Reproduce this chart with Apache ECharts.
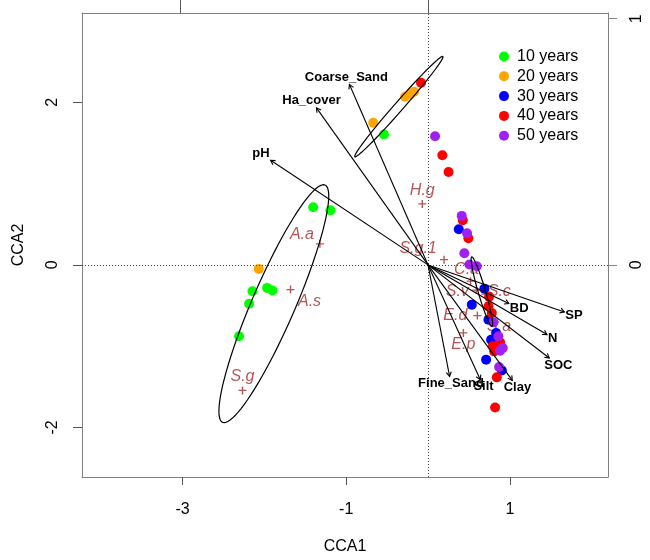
<!DOCTYPE html>
<html><head><meta charset="utf-8">
<script src="https://cdn.jsdelivr.net/npm/echarts@6/dist/echarts.min.js"></script>
<style>html,body{margin:0;padding:0;background:#fff}#c{width:650px;height:560px}</style>
</head><body><div id="c"></div>
<script>
// ---------- data ----------
const xTicks = [-3, -1, 1];
const yTicks = [-2, 0, 2];
const topTicks = [-1, 0];
const rightTicks = [0, 1];
const groupNames = ['10 years', '20 years', '30 years', '40 years', '50 years'];

const years10 = [[-0.539,1.605],[-1.404,0.709],[-1.193,0.672],[-2.146,-0.325],[-2.187,-0.477],[-1.967,-0.283],[-1.901,-0.316],[-2.310,-0.879]];
const years20 = [[-2.069,-0.049],[-0.670,1.749],[-0.28,2.07],[-0.22,2.10],[-0.17,2.13]];
const years30 = [[0.376,0.438],[0.689,-0.292],[0.535,-0.489],[0.738,-0.674],[0.832,-0.837],[0.771,-0.920],[0.710,-1.166],[0.902,-1.298]];
const years40 = [[-0.086,2.241],[0.175,1.350],[0.251,1.143],[0.425,0.549],[0.493,0.328],[0.747,-0.390],[0.738,-0.510],[0.780,-0.591],[0.881,-0.953],[0.792,-1.002],[0.808,-1.064],[0.841,-1.384],[0.820,-1.754]];
const years50 = [[0.086,1.584],[0.412,0.603],[0.477,0.389],[0.444,0.143],[0.506,0.004],[0.596,-0.017],[0.799,-0.707],[0.860,-0.879],[0.914,-1.022],[0.881,-1.055],[0.869,-1.256]];

const speciesNames = ['H.g','S.g.1','A.a','A.s','S.g','E.d','E.p','C.a','S.v','S.c','S.a'];
const speciesX = [-0.070, 0.196, -1.322, -1.681, -2.268, 0.603, 0.432, 0.52, 0.59, 0.70, 0.82];
const speciesY = [0.751, 0.065, 0.259, -0.304, -1.544, -0.624, -0.837, -0.20, -0.31, -0.36, -0.70];

const envNames = ['Coarse_Sand','Ha_cover','pH','Fine_Sand','Silt','Clay','SOC','N','SP','BD'];
const envX = [-0.317,-0.450,-0.635, 0.087, 0.211, 0.340, 0.489, 0.480, 0.550, 0.326];
const envY = [ 0.733, 0.638, 0.425,-0.453,-0.466,-0.469,-0.378,-0.283,-0.191,-0.157];

// ellipses: centre x, centre y, semi-major, semi-minor, angle(deg)
const ellipseCX = [-1.885, -0.356, 0.658];
const ellipseCY = [-0.477, 1.949, -0.329];
const ellipseA = [1.589, 0.819, 0.445];
const ellipseB = [0.264, 0.055, 0.045];
const ellipseAngle = [66.8, 48.9, -73.8];

// ---------- layout / style ----------
const X_MIN = -4.23, X_MAX = 2.20, Y_MIN = -2.61, Y_MAX = 3.10, ARROW_MUL = 3.03;
const FONT = 'Liberation Sans, Arial, sans-serif';
const ENV_FONT = 'bold 13px Liberation Sans, Arial, sans-serif';
const groupColors = ['#00FF00', '#FFA500', '#0000FF', '#FF0000', '#A020F0'];
const SP_COLOR = '#A52A2A';
const speciesLabelOffset = [[0,-13],[-26,-11],[-18,-9],[19,12],[0,-14],[-22,0],[0,12],[-4,-12],[-19,1],[14,-3],[4,5]];
const AXIS_COLOR = '#808080';

const groups = [years10, years20, years30, years40, years50];
const measureCtx = document.createElement('canvas').getContext('2d');
measureCtx.font = ENV_FONT;

const chart = echarts.init(document.getElementById('c'), null, {renderer: 'canvas'});

const scatterSeries = groups.map((g, i) => ({
  type: 'scatter', name: groupNames[i], data: g,
  xAxisIndex: 0, yAxisIndex: 0,
  symbol: 'circle', symbolSize: 10,
  itemStyle: {color: groupColors[i], opacity: 1},
  z: 4
}));

const ellipseSeries = {
  type: 'custom', xAxisIndex: 0, yAxisIndex: 0, z: 5, silent: true,
  data: ellipseCX.map((c, i) => [c, ellipseCY[i], ellipseA[i], ellipseB[i], ellipseAngle[i]]),
  encode: {x: 0, y: 1},
  renderItem: function (params, api) {
    const cx = api.value(0), cy = api.value(1), a = api.value(2), b = api.value(3);
    const ang = api.value(4) * Math.PI / 180;
    const pts = [];
    const N = 90;
    for (let k = 0; k <= N; k++) {
      const t = k / N * 2 * Math.PI;
      const x = cx + a * Math.cos(t) * Math.cos(ang) - b * Math.sin(t) * Math.sin(ang);
      const y = cy + a * Math.cos(t) * Math.sin(ang) + b * Math.sin(t) * Math.cos(ang);
      pts.push(api.coord([x, y]));
    }
    return {type: 'polyline', shape: {points: pts}, style: {fill: null, stroke: '#000', lineWidth: 1.2}};
  }
};

const arrowSeries = {
  type: 'custom', xAxisIndex: 1, yAxisIndex: 1, z: 6, silent: true,
  data: envX.map((x, i) => [x, envY[i]]),
  encode: {x: 0, y: 1},
  renderItem: function (params, api) {
    const x = api.value(0), y = api.value(1);
    const name = envNames[params.dataIndex];
    const o = api.coord([0, 0]);
    const p = api.coord([x, y]);
    const th = Math.atan2(p[1] - o[1], p[0] - o[0]);
    const ux = Math.cos(th), uy = Math.sin(th);
    const hw = measureCtx.measureText(name).width / 2 + 1, hh = 7;
    const d = Math.min(Math.abs(ux) > 1e-6 ? hw / Math.abs(ux) : 1e9, Math.abs(uy) > 1e-6 ? hh / Math.abs(uy) : 1e9);
    const l = [p[0] + ux * d, p[1] + uy * d];
    const h = 5, sp = Math.PI / 6;
    const h1 = [p[0] - h * Math.cos(th - sp), p[1] - h * Math.sin(th - sp)];
    const h2 = [p[0] - h * Math.cos(th + sp), p[1] - h * Math.sin(th + sp)];
    return {type: 'group', children: [
      {type: 'line', shape: {x1: o[0], y1: o[1], x2: p[0], y2: p[1]}, style: {stroke: '#000', lineWidth: 1.1}},
      {type: 'polyline', shape: {points: [h1, p, h2]}, style: {stroke: '#000', lineWidth: 1.1, fill: null}},
      {type: 'text', x: l[0], y: l[1], style: {text: name, align: 'center', verticalAlign: 'middle', fill: '#000', font: ENV_FONT}}
    ]};
  }
};

const speciesSeries = {
  type: 'scatter', name: 'species', xAxisIndex: 0, yAxisIndex: 0, z: 3, silent: true,
  symbol: 'path://M5,0L5,10M0,5L10,5', symbolSize: 8,
  itemStyle: {color: SP_COLOR, borderColor: SP_COLOR, borderWidth: 1.4},
  data: speciesNames.map((n, i) => ({
    name: n, value: [speciesX[i], speciesY[i]],
    label: {offset: speciesLabelOffset[i]}
  })),
  label: {show: true, position: 'inside', formatter: '{b}', color: SP_COLOR, fontStyle: 'italic', fontSize: 16, fontFamily: FONT}
};

const refLines = {
  type: 'line', xAxisIndex: 0, yAxisIndex: 0, data: [], z: 2, silent: true,
  markLine: {silent: true, symbol: 'none', label: {show: false},
    lineStyle: {type: [1, 2], color: '#444', width: 1},
    data: [{xAxis: 0}, {yAxis: 0}]}
};

chart.setOption({
  animation: false,
  backgroundColor: '#fff',
  grid: {left: 82, right: 42, top: 13, bottom: 83, containLabel: false},
  legend: {
    data: groupNames, orient: 'vertical', left: 494, top: 43,
    icon: 'circle', itemWidth: 10, itemHeight: 10, itemGap: 2.8,
    textStyle: {fontSize: 16, fontFamily: FONT, color: '#000', lineHeight: 17, padding: [0, 0, 0, 3]}
  },
  xAxis: [
    {type: 'value', position: 'bottom', min: X_MIN, max: X_MAX,
      splitLine: {show: false},
      axisLine: {show: true, onZero: false, lineStyle: {color: AXIS_COLOR, width: 1}},
      axisTick: {show: true, customValues: xTicks, length: 8, lineStyle: {color: '#555'}},
      axisLabel: {customValues: xTicks, margin: 25, fontSize: 16, color: '#000', fontFamily: FONT},
      name: 'CCA1', nameLocation: 'middle', nameGap: 62,
      nameTextStyle: {fontSize: 16, color: '#000', fontFamily: FONT}},
    {type: 'value', position: 'top', min: X_MIN / ARROW_MUL, max: X_MAX / ARROW_MUL,
      splitLine: {show: false},
      axisLine: {show: true, onZero: false, lineStyle: {color: AXIS_COLOR, width: 1}},
      axisTick: {show: true, customValues: topTicks, length: 13, lineStyle: {color: '#555'}},
      axisLabel: {show: false}}
  ],
  yAxis: [
    {type: 'value', position: 'left', min: Y_MIN, max: Y_MAX,
      splitLine: {show: false},
      axisLine: {show: true, onZero: false, lineStyle: {color: AXIS_COLOR, width: 1}},
      axisTick: {show: true, customValues: yTicks, length: 9, lineStyle: {color: '#555'}},
      axisLabel: {customValues: yTicks, rotate: 90, margin: 21, fontSize: 16, color: '#000', fontFamily: FONT},
      name: 'CCA2', nameLocation: 'middle', nameGap: 55, nameRotate: 90,
      nameTextStyle: {fontSize: 16, color: '#000', fontFamily: FONT}},
    {type: 'value', position: 'right', min: Y_MIN / ARROW_MUL, max: Y_MAX / ARROW_MUL,
      splitLine: {show: false},
      axisLine: {show: true, onZero: false, lineStyle: {color: AXIS_COLOR, width: 1}},
      axisTick: {show: true, customValues: rightTicks, length: 9, lineStyle: {color: '#888'}},
      axisLabel: {customValues: rightTicks, rotate: 90, margin: 21, fontSize: 16, color: '#000', fontFamily: FONT}}
  ],
  series: [refLines, speciesSeries, ...scatterSeries, ellipseSeries, arrowSeries]
});
</script></body></html>
